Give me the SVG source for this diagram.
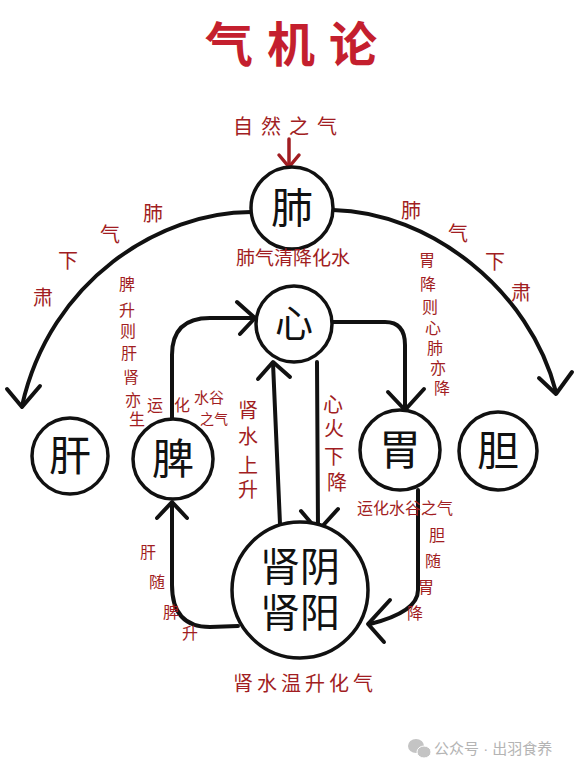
<svg xmlns="http://www.w3.org/2000/svg" width="580" height="773" viewBox="0 0 580 773">
<style>
.ln{fill:none;stroke:#111;stroke-width:4;stroke-linecap:round;stroke-linejoin:round}
.nd{fill:#fff;stroke:#111;stroke-width:3.5}
.nt{font-family:"Liberation Sans","Noto Sans CJK SC",sans-serif;font-size:42px;fill:#111;text-anchor:middle;dominant-baseline:central}
.lb{font-family:"Liberation Sans","Noto Sans CJK SC",sans-serif;font-size:20px;fill:#a11d22;text-anchor:middle;dominant-baseline:central}
.sm{font-size:16px}
.ti{font-family:"Liberation Sans","Noto Sans CJK SC",sans-serif;font-size:48px;font-weight:700;fill:#c41f2e;text-anchor:middle;dominant-baseline:central;letter-spacing:14px}
.wm{font-family:"Liberation Sans","Noto Sans CJK SC",sans-serif;font-size:15px;fill:#b4b4b4;dominant-baseline:central}
</style>
<rect width="580" height="773" fill="#fff"/>
<text class="ti" x="298" y="45">气机论</text>

<g id="connectors">
  <path class="ln" d="M251 212 C160 212 50 280 22 406"/>
  <path class="ln" d="M7 389 L22 407 L40 386"/>
  <path class="ln" d="M333 210 C430 212 530 290 556 392"/>
  <path class="ln" d="M539 378 L556 394 L572 372"/>
  <path class="ln" d="M172 418 L172 355 Q172 318 210 318 L253 318"/>
  <path class="ln" d="M237 302 L255 318 L240 334"/>
  <path class="ln" d="M238 626 L210 627 Q172 627 172 585 L172 503"/>
  <path class="ln" d="M157 518 L172 502 L187 518"/>
  <path class="ln" d="M280 524 L273 363"/>
  <path class="ln" d="M258 379 L273 362 L290 377"/>
  <path class="ln" d="M317 362 L318 530"/>
  <path class="ln" d="M301 511 L318 531 L338 509"/>
  <path class="ln" d="M332 322 L385 322 Q405 322 405 345 L405 408"/>
  <path class="ln" d="M388 392 L405 410 L424 389"/>
  <path class="ln" d="M418 490 L418 590 Q418 612 370 624"/>
  <path class="ln" d="M390 600 L368 624 L384 642"/>
  <path d="M289 139 L289 166" fill="none" stroke="#a11d22" stroke-width="3.5" stroke-linecap="round"/>
  <path d="M279 155 L289 167 L299 155" fill="none" stroke="#a11d22" stroke-width="3.5" stroke-linecap="round" stroke-linejoin="round"/>
</g>

<g id="node-fei"><circle class="nd" cx="292" cy="208" r="41"/><text class="nt" x="292" y="208">肺</text></g>
<g id="node-xin"><circle class="nd" cx="294" cy="324" r="38"/><text class="nt" x="294" y="324" style="font-size:38px">心</text></g>
<g id="node-gan"><circle class="nd" cx="70" cy="456" r="38"/><text class="nt" x="70" y="456">肝</text></g>
<g id="node-pi"><circle class="nd" cx="173" cy="459" r="40"/><text class="nt" x="173" y="459">脾</text></g>
<g id="node-wei"><circle class="nd" cx="400" cy="450" r="40"/><text class="nt" x="400" y="450">胃</text></g>
<g id="node-dan"><circle class="nd" cx="498" cy="451" r="39"/><text class="nt" x="498" y="451">胆</text></g>
<g id="node-shen"><circle class="nd" cx="300" cy="590" r="68"/><text class="nt" style="font-size:40px"><tspan x="300" y="567">肾阴</tspan><tspan x="300" y="613">肾阳</tspan></text></g>

<g id="labels">
  <text class="lb" x="289" y="127" style="letter-spacing:8px">自然之气</text>
  <text class="lb" x="293" y="258" style="font-size:19px">肺气清降化水</text>
  <text class="lb"><tspan x="153" y="214">肺</tspan><tspan x="110" y="235">气</tspan><tspan x="68" y="261">下</tspan><tspan x="43" y="298">肃</tspan></text>
  <text class="lb"><tspan x="411" y="211">肺</tspan><tspan x="458" y="234">气</tspan><tspan x="495" y="262">下</tspan><tspan x="521" y="293">肃</tspan></text>
  <text class="lb sm"><tspan x="127" y="284">脾</tspan><tspan x="127" y="310">升</tspan><tspan x="128" y="331">则</tspan><tspan x="129" y="353">肝</tspan><tspan x="131" y="377">肾</tspan><tspan x="133" y="400">亦</tspan><tspan x="137" y="419">生</tspan></text>
  <text class="lb sm"><tspan x="155" y="405">运</tspan><tspan x="182" y="405">化</tspan><tspan x="209" y="397" style="font-size:15px">水谷</tspan><tspan x="214" y="419" style="font-size:14px">之气</tspan></text>
  <text class="lb sm"><tspan x="427" y="260">胃</tspan><tspan x="428" y="284">降</tspan><tspan x="430" y="307">则</tspan><tspan x="433" y="328">心</tspan><tspan x="435" y="348">肺</tspan><tspan x="438" y="368">亦</tspan><tspan x="442" y="388">降</tspan></text>
  <text class="lb"><tspan x="248" y="411">肾</tspan><tspan x="248" y="437">水</tspan><tspan x="248" y="466">上</tspan><tspan x="248" y="490">升</tspan></text>
  <text class="lb"><tspan x="333" y="405">心</tspan><tspan x="334" y="429">火</tspan><tspan x="334" y="457">下</tspan><tspan x="337" y="483">降</tspan></text>
  <text class="lb sm" x="405" y="508">运化水谷之气</text>
  <text class="lb sm"><tspan x="437" y="535">胆</tspan><tspan x="433" y="561">随</tspan><tspan x="426" y="587">胃</tspan><tspan x="415" y="613">降</tspan></text>
  <text class="lb sm"><tspan x="148" y="552">肝</tspan><tspan x="157" y="582">随</tspan><tspan x="171" y="612">脾</tspan><tspan x="190" y="633">升</tspan></text>
  <text class="lb" x="305" y="684" style="letter-spacing:4px">肾水温升化气</text>
</g>

<g id="watermark">
  <ellipse cx="416" cy="746" rx="8" ry="7" fill="#c4c4c4"/>
  <ellipse cx="424" cy="752" rx="7" ry="6" fill="#c4c4c4" stroke="#fff" stroke-width="1"/>
  <text class="wm" x="434" y="748">公众号 · 出羽食养</text>
</g>
</svg>
